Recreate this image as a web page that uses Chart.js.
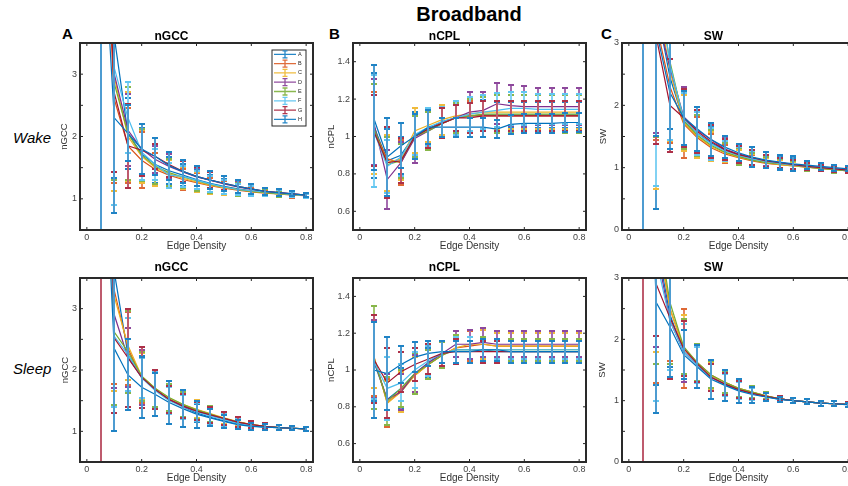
<!DOCTYPE html>
<html>
<head>
<meta charset="utf-8">
<script src="https://cdn.jsdelivr.net/npm/chart.js@4.4.1/dist/chart.umd.min.js"></script>
<style>
  html, body { margin: 0; padding: 0; background: #fff; overflow: hidden; width: 848px; height: 486px; }
  #fig { position: relative; width: 848px; height: 486px; overflow: hidden; font-family: "Liberation Sans", Arial, sans-serif; }
  #fig canvas { position: absolute; }
  .lbl { position: absolute; line-height: 1; white-space: nowrap; color: #000; }
</style>
</head>
<body>
<div id="fig">
  <div class="lbl" style="left:469px;top:4px;font-size:20px;font-weight:bold;transform:translateX(-50%);">Broadband</div>
  <div class="lbl" style="left:62px;top:26px;font-size:15px;font-weight:bold;">A</div>
  <div class="lbl" style="left:329px;top:26px;font-size:15px;font-weight:bold;">B</div>
  <div class="lbl" style="left:601px;top:26px;font-size:15px;font-weight:bold;">C</div>
  <div class="lbl" style="left:13px;top:129.5px;font-size:15px;font-style:italic;">Wake</div>
  <div class="lbl" style="left:13px;top:360.5px;font-size:15px;font-style:italic;">Sleep</div>
</div>
<script>
// Edge densities at which each network measure was computed
const edgeDensity = [0.05, 0.10, 0.15, 0.20, 0.25, 0.30, 0.35, 0.40, 0.45, 0.50, 0.55, 0.60, 0.65, 0.70, 0.75, 0.80];
const groupNames = ['A', 'B', 'C', 'D', 'E', 'F', 'G', 'H'];

// Axis tick positions
const densityTicks = [0, 0.2, 0.4, 0.6, 0.8];
const gccTicks = [1, 1.5, 2, 2.5, 3];
const cplTicks = [0.6, 0.8, 1.0, 1.2, 1.4];
const swTicks = [0, 0.5, 1, 1.5, 2, 2.5, 3];

// ---- Wake: normalised global clustering coefficient (mean, sd) ----
const wakeGccMean = [
  [12.0, 3.60, 2.05, 1.72, 1.55, 1.45, 1.38, 1.31, 1.25, 1.20, 1.16, 1.13, 1.11, 1.09, 1.07, 1.05],
  [7.0, 2.60, 1.85, 1.62, 1.47, 1.38, 1.31, 1.26, 1.21, 1.17, 1.14, 1.11, 1.09, 1.08, 1.06, 1.05],
  [9.0, 2.95, 2.00, 1.68, 1.50, 1.40, 1.33, 1.27, 1.22, 1.18, 1.15, 1.12, 1.10, 1.08, 1.07, 1.05],
  [10.0, 3.00, 2.10, 1.80, 1.63, 1.52, 1.43, 1.35, 1.30, 1.24, 1.19, 1.15, 1.12, 1.10, 1.08, 1.06],
  [9.5, 2.85, 2.05, 1.70, 1.52, 1.42, 1.35, 1.29, 1.23, 1.19, 1.15, 1.12, 1.10, 1.08, 1.07, 1.05],
  [11.0, 3.10, 2.30, 1.75, 1.55, 1.38, 1.36, 1.30, 1.24, 1.19, 1.15, 1.13, 1.11, 1.09, 1.07, 1.05],
  [8.0, 2.70, 1.85, 1.78, 1.68, 1.55, 1.44, 1.36, 1.30, 1.25, 1.20, 1.16, 1.12, 1.10, 1.08, 1.06],
  [6.0, 2.30, 2.05, 1.80, 1.68, 1.53, 1.44, 1.36, 1.30, 1.25, 1.20, 1.16, 1.12, 1.10, 1.08, 1.06]
];
const wakeGccErr = [
  [12.0, 2.27, 0.57, 0.42, 0.30, 0.22, 0.18, 0.16, 0.14, 0.12, 0.10, 0.08, 0.06, 0.05, 0.04, 0.03],
  [3.0, 1.35, 0.60, 0.45, 0.27, 0.20, 0.17, 0.15, 0.13, 0.11, 0.09, 0.07, 0.05, 0.04, 0.04, 0.03],
  [4.5, 1.83, 0.72, 0.42, 0.30, 0.22, 0.18, 0.16, 0.14, 0.12, 0.10, 0.08, 0.06, 0.05, 0.04, 0.03],
  [5.0, 1.57, 0.58, 0.40, 0.22, 0.20, 0.17, 0.15, 0.14, 0.12, 0.10, 0.08, 0.06, 0.05, 0.04, 0.03],
  [5.0, 1.55, 0.75, 0.42, 0.28, 0.22, 0.18, 0.16, 0.14, 0.12, 0.10, 0.08, 0.06, 0.05, 0.04, 0.03],
  [6.0, 2.20, 0.57, 0.45, 0.25, 0.20, 0.17, 0.15, 0.13, 0.11, 0.09, 0.08, 0.06, 0.05, 0.04, 0.03],
  [4.0, 1.27, 0.67, 0.42, 0.20, 0.20, 0.17, 0.15, 0.13, 0.11, 0.10, 0.08, 0.06, 0.05, 0.04, 0.03],
  [2.0, 1.53, 0.45, 0.40, 0.30, 0.22, 0.18, 0.16, 0.14, 0.12, 0.10, 0.08, 0.06, 0.05, 0.04, 0.03]
];

// ---- Wake: normalised characteristic path length ----
const wakeCplMean = [
  [1.06, 0.87, 0.90, 1.01, 1.04, 1.08, 1.10, 1.11, 1.115, 1.115, 1.115, 1.115, 1.115, 1.115, 1.115, 1.115],
  [1.04, 0.88, 0.86, 1.00, 1.04, 1.07, 1.10, 1.11, 1.11, 1.11, 1.11, 1.11, 1.11, 1.11, 1.11, 1.11],
  [1.04, 0.86, 0.88, 1.03, 1.06, 1.09, 1.11, 1.12, 1.13, 1.13, 1.13, 1.13, 1.13, 1.13, 1.13, 1.13],
  [1.08, 0.77, 0.86, 0.99, 1.03, 1.07, 1.10, 1.13, 1.14, 1.175, 1.165, 1.16, 1.16, 1.16, 1.16, 1.16],
  [1.05, 0.85, 0.87, 1.00, 1.03, 1.07, 1.10, 1.11, 1.12, 1.12, 1.12, 1.12, 1.12, 1.12, 1.12, 1.12],
  [1.03, 0.84, 0.89, 1.01, 1.05, 1.08, 1.10, 1.12, 1.13, 1.14, 1.15, 1.15, 1.145, 1.145, 1.145, 1.145],
  [1.03, 0.86, 0.87, 1.00, 1.04, 1.07, 1.10, 1.10, 1.11, 1.11, 1.11, 1.11, 1.11, 1.11, 1.11, 1.11],
  [1.10, 0.89, 0.95, 1.00, 1.05, 1.05, 1.05, 1.05, 1.05, 1.04, 1.065, 1.07, 1.07, 1.07, 1.075, 1.075]
];
const wakeCplErr = [
  [0.28, 0.17, 0.10, 0.12, 0.10, 0.08, 0.07, 0.08, 0.08, 0.07, 0.07, 0.07, 0.07, 0.07, 0.07, 0.07],
  [0.20, 0.17, 0.12, 0.12, 0.10, 0.08, 0.07, 0.08, 0.08, 0.08, 0.08, 0.08, 0.08, 0.08, 0.08, 0.08],
  [0.24, 0.15, 0.11, 0.12, 0.09, 0.08, 0.08, 0.09, 0.09, 0.09, 0.09, 0.09, 0.09, 0.09, 0.09, 0.09],
  [0.23, 0.16, 0.11, 0.13, 0.10, 0.08, 0.08, 0.11, 0.10, 0.11, 0.11, 0.11, 0.10, 0.10, 0.10, 0.10],
  [0.23, 0.15, 0.09, 0.11, 0.10, 0.08, 0.08, 0.09, 0.09, 0.10, 0.10, 0.10, 0.10, 0.10, 0.10, 0.10],
  [0.30, 0.14, 0.10, 0.11, 0.10, 0.08, 0.09, 0.09, 0.09, 0.09, 0.09, 0.09, 0.08, 0.08, 0.08, 0.08],
  [0.19, 0.19, 0.12, 0.12, 0.10, 0.08, 0.07, 0.08, 0.08, 0.08, 0.08, 0.08, 0.08, 0.08, 0.08, 0.08],
  [0.28, 0.21, 0.12, 0.12, 0.09, 0.05, 0.05, 0.05, 0.05, 0.05, 0.05, 0.05, 0.05, 0.05, 0.05, 0.05]
];

// ---- Wake: small-worldness ----
const wakeSwMean = [
  [15.0, 3.60, 2.45, 1.75, 1.55, 1.40, 1.28, 1.20, 1.14, 1.10, 1.07, 1.05, 1.02, 1.00, 0.98, 0.96],
  [8.0, 3.30, 2.30, 1.70, 1.48, 1.32, 1.22, 1.16, 1.11, 1.07, 1.05, 1.03, 1.01, 0.99, 0.97, 0.95],
  [10.0, 3.80, 2.55, 1.72, 1.50, 1.34, 1.24, 1.17, 1.12, 1.08, 1.05, 1.03, 1.01, 0.99, 0.97, 0.95],
  [11.0, 3.50, 2.60, 1.82, 1.60, 1.45, 1.30, 1.22, 1.16, 1.11, 1.08, 1.05, 1.02, 1.00, 0.98, 0.96],
  [10.0, 4.00, 2.70, 1.75, 1.52, 1.36, 1.25, 1.18, 1.12, 1.08, 1.06, 1.04, 1.01, 0.99, 0.97, 0.95],
  [12.0, 4.20, 2.65, 1.78, 1.55, 1.38, 1.27, 1.20, 1.14, 1.10, 1.07, 1.04, 1.02, 1.00, 0.98, 0.96],
  [9.0, 3.10, 2.00, 1.80, 1.58, 1.42, 1.29, 1.21, 1.16, 1.11, 1.08, 1.05, 1.02, 1.00, 0.98, 0.96],
  [7.0, 3.20, 2.20, 1.80, 1.62, 1.45, 1.33, 1.24, 1.17, 1.12, 1.09, 1.06, 1.04, 1.02, 1.00, 0.98]
];
const wakeSwErr = [
  [15.0, 3.27, 0.83, 0.42, 0.35, 0.25, 0.16, 0.13, 0.12, 0.10, 0.10, 0.10, 0.06, 0.05, 0.05, 0.04],
  [4.0, 1.85, 0.90, 0.55, 0.33, 0.22, 0.14, 0.12, 0.10, 0.08, 0.07, 0.06, 0.05, 0.05, 0.04, 0.04],
  [5.0, 3.15, 1.13, 0.45, 0.35, 0.24, 0.15, 0.12, 0.10, 0.08, 0.07, 0.06, 0.05, 0.05, 0.04, 0.04],
  [6.0, 1.95, 1.30, 0.48, 0.37, 0.27, 0.17, 0.14, 0.12, 0.09, 0.08, 0.07, 0.06, 0.05, 0.05, 0.04],
  [5.0, 2.50, 1.40, 0.45, 0.33, 0.24, 0.15, 0.13, 0.11, 0.09, 0.08, 0.07, 0.06, 0.05, 0.05, 0.04],
  [6.0, 3.50, 1.20, 0.42, 0.35, 0.25, 0.16, 0.13, 0.12, 0.10, 0.09, 0.08, 0.06, 0.05, 0.05, 0.04],
  [4.0, 1.72, 0.75, 0.47, 0.35, 0.26, 0.17, 0.14, 0.12, 0.10, 0.08, 0.07, 0.06, 0.05, 0.05, 0.04],
  [3.0, 1.70, 0.90, 0.43, 0.35, 0.27, 0.18, 0.14, 0.16, 0.13, 0.11, 0.12, 0.06, 0.05, 0.05, 0.04]
];

// ---- Sleep: normalised global clustering coefficient ----
const sleepGccMean = [
  [10.0, 3.60, 2.25, 1.88, 1.68, 1.52, 1.40, 1.30, 1.23, 1.17, 1.12, 1.09, 1.07, 1.06, 1.05, 1.04],
  [9.0, 3.30, 2.35, 1.88, 1.68, 1.52, 1.43, 1.35, 1.28, 1.21, 1.15, 1.11, 1.08, 1.06, 1.05, 1.04],
  [9.0, 3.20, 2.40, 1.90, 1.70, 1.54, 1.44, 1.36, 1.29, 1.22, 1.16, 1.11, 1.08, 1.06, 1.05, 1.04],
  [11.0, 2.90, 2.20, 1.88, 1.68, 1.52, 1.42, 1.33, 1.26, 1.20, 1.14, 1.10, 1.08, 1.06, 1.05, 1.04],
  [8.0, 2.62, 2.30, 1.90, 1.70, 1.55, 1.44, 1.35, 1.28, 1.21, 1.15, 1.11, 1.08, 1.06, 1.05, 1.04],
  [10.0, 2.55, 2.25, 1.87, 1.66, 1.50, 1.40, 1.32, 1.25, 1.19, 1.13, 1.10, 1.07, 1.06, 1.05, 1.04],
  [12.0, 2.52, 2.20, 1.88, 1.68, 1.52, 1.41, 1.33, 1.27, 1.21, 1.15, 1.11, 1.08, 1.06, 1.05, 1.04],
  [7.0, 2.35, 1.92, 1.72, 1.60, 1.47, 1.37, 1.28, 1.22, 1.16, 1.11, 1.08, 1.07, 1.06, 1.05, 1.04]
];
const sleepGccErr = [
  [4.0, 2.18, 0.60, 0.35, 0.30, 0.22, 0.20, 0.15, 0.13, 0.10, 0.08, 0.06, 0.05, 0.04, 0.03, 0.03],
  [4.0, 1.53, 0.60, 0.42, 0.30, 0.22, 0.20, 0.15, 0.13, 0.10, 0.08, 0.06, 0.05, 0.04, 0.03, 0.03],
  [4.0, 1.55, 0.57, 0.38, 0.30, 0.22, 0.20, 0.15, 0.13, 0.10, 0.08, 0.06, 0.05, 0.04, 0.03, 0.03],
  [5.0, 1.20, 0.48, 0.45, 0.30, 0.22, 0.20, 0.15, 0.13, 0.10, 0.08, 0.06, 0.05, 0.04, 0.03, 0.03],
  [3.5, 1.19, 0.67, 0.40, 0.30, 0.22, 0.20, 0.15, 0.13, 0.10, 0.08, 0.06, 0.05, 0.04, 0.03, 0.03],
  [5.0, 1.15, 0.60, 0.33, 0.30, 0.22, 0.20, 0.15, 0.13, 0.10, 0.08, 0.06, 0.05, 0.04, 0.03, 0.03],
  [12.0, 1.22, 0.80, 0.50, 0.32, 0.22, 0.20, 0.15, 0.13, 0.10, 0.08, 0.06, 0.05, 0.04, 0.03, 0.03],
  [3.0, 1.35, 0.58, 0.50, 0.35, 0.35, 0.30, 0.22, 0.14, 0.10, 0.08, 0.06, 0.05, 0.04, 0.03, 0.03]
];

// ---- Sleep: normalised characteristic path length ----
const sleepCplMean = [
  [1.05, 0.84, 0.90, 0.98, 1.04, 1.09, 1.11, 1.11, 1.11, 1.10, 1.10, 1.10, 1.10, 1.10, 1.10, 1.10],
  [1.08, 0.82, 0.89, 0.97, 1.03, 1.08, 1.12, 1.13, 1.14, 1.13, 1.13, 1.13, 1.13, 1.13, 1.13, 1.13],
  [1.08, 0.82, 0.88, 0.97, 1.03, 1.08, 1.12, 1.14, 1.14, 1.13, 1.13, 1.13, 1.13, 1.13, 1.13, 1.13],
  [1.06, 0.84, 0.88, 0.98, 1.04, 1.09, 1.14, 1.14, 1.15, 1.14, 1.14, 1.14, 1.14, 1.14, 1.14, 1.14],
  [1.07, 0.83, 0.90, 0.98, 1.03, 1.08, 1.11, 1.11, 1.11, 1.11, 1.11, 1.11, 1.11, 1.11, 1.11, 1.11],
  [1.05, 0.90, 0.93, 1.00, 1.05, 1.09, 1.11, 1.11, 1.11, 1.11, 1.11, 1.11, 1.11, 1.11, 1.11, 1.11],
  [1.06, 0.93, 0.99, 1.03, 1.06, 1.09, 1.10, 1.10, 1.10, 1.10, 1.10, 1.10, 1.10, 1.10, 1.10, 1.10],
  [1.00, 0.98, 1.03, 1.07, 1.09, 1.10, 1.10, 1.10, 1.11, 1.11, 1.10, 1.10, 1.10, 1.10, 1.10, 1.10]
];
const sleepCplErr = [
  [0.22, 0.14, 0.11, 0.10, 0.08, 0.07, 0.08, 0.07, 0.07, 0.06, 0.06, 0.06, 0.06, 0.06, 0.06, 0.06],
  [0.22, 0.13, 0.11, 0.10, 0.08, 0.07, 0.09, 0.08, 0.08, 0.07, 0.07, 0.07, 0.07, 0.07, 0.07, 0.07],
  [0.18, 0.12, 0.11, 0.10, 0.08, 0.07, 0.09, 0.08, 0.08, 0.07, 0.07, 0.07, 0.07, 0.07, 0.07, 0.07],
  [0.21, 0.14, 0.10, 0.10, 0.09, 0.07, 0.07, 0.08, 0.08, 0.07, 0.07, 0.07, 0.07, 0.07, 0.07, 0.07],
  [0.28, 0.13, 0.10, 0.11, 0.08, 0.07, 0.08, 0.07, 0.07, 0.06, 0.06, 0.06, 0.06, 0.06, 0.06, 0.06],
  [0.21, 0.17, 0.10, 0.10, 0.08, 0.07, 0.07, 0.07, 0.06, 0.05, 0.05, 0.05, 0.05, 0.05, 0.05, 0.05],
  [0.24, 0.19, 0.11, 0.09, 0.08, 0.07, 0.07, 0.06, 0.06, 0.06, 0.06, 0.06, 0.06, 0.06, 0.06, 0.06],
  [0.26, 0.20, 0.10, 0.08, 0.07, 0.06, 0.06, 0.06, 0.06, 0.06, 0.06, 0.06, 0.06, 0.06, 0.06, 0.06]
];

// ---- Sleep: small-worldness ----
const sleepSwMean = [
  [14.0, 3.60, 2.40, 1.80, 1.58, 1.38, 1.27, 1.18, 1.12, 1.07, 1.03, 1.00, 0.98, 0.96, 0.95, 0.94],
  [9.0, 3.80, 2.50, 1.85, 1.62, 1.42, 1.30, 1.20, 1.14, 1.08, 1.03, 1.00, 0.98, 0.96, 0.95, 0.94],
  [9.0, 3.90, 2.50, 1.85, 1.60, 1.40, 1.30, 1.20, 1.14, 1.08, 1.03, 1.00, 0.98, 0.96, 0.95, 0.94],
  [10.0, 3.50, 2.30, 1.80, 1.58, 1.38, 1.27, 1.18, 1.12, 1.07, 1.03, 1.00, 0.98, 0.96, 0.95, 0.94],
  [10.0, 4.00, 2.60, 1.88, 1.62, 1.42, 1.30, 1.20, 1.14, 1.08, 1.03, 1.00, 0.98, 0.96, 0.95, 0.94],
  [11.0, 3.30, 2.30, 1.80, 1.58, 1.38, 1.26, 1.17, 1.11, 1.06, 1.02, 1.00, 0.98, 0.96, 0.95, 0.94],
  [12.0, 2.90, 2.35, 1.85, 1.60, 1.38, 1.27, 1.18, 1.12, 1.07, 1.03, 1.00, 0.98, 0.96, 0.95, 0.94],
  [8.0, 2.60, 2.20, 1.75, 1.55, 1.35, 1.25, 1.16, 1.10, 1.06, 1.02, 1.00, 0.98, 0.96, 0.95, 0.93]
];
const sleepSwErr = [
  [5.0, 2.35, 0.85, 0.45, 0.30, 0.22, 0.18, 0.14, 0.10, 0.06, 0.04, 0.04, 0.04, 0.04, 0.04, 0.04],
  [5.0, 2.52, 0.85, 0.65, 0.30, 0.22, 0.18, 0.14, 0.10, 0.06, 0.04, 0.04, 0.04, 0.04, 0.04, 0.04],
  [5.0, 2.10, 0.90, 0.55, 0.30, 0.22, 0.18, 0.14, 0.10, 0.06, 0.04, 0.04, 0.04, 0.04, 0.04, 0.04],
  [6.0, 1.62, 0.70, 0.50, 0.30, 0.22, 0.18, 0.14, 0.10, 0.06, 0.04, 0.04, 0.04, 0.04, 0.04, 0.04],
  [6.0, 2.40, 1.00, 0.45, 0.30, 0.22, 0.18, 0.14, 0.10, 0.06, 0.04, 0.04, 0.04, 0.04, 0.04, 0.04],
  [7.0, 2.30, 0.80, 0.45, 0.30, 0.22, 0.18, 0.14, 0.10, 0.06, 0.04, 0.04, 0.04, 0.04, 0.04, 0.04],
  [12.0, 0.85, 1.00, 0.45, 0.30, 0.22, 0.18, 0.14, 0.10, 0.06, 0.04, 0.04, 0.04, 0.04, 0.04, 0.04],
  [4.0, 1.80, 0.82, 0.40, 0.35, 0.32, 0.25, 0.20, 0.13, 0.06, 0.04, 0.04, 0.04, 0.04, 0.04, 0.04]
];

// ---------------- styling ----------------
const FONT = '"Liberation Sans", Arial, sans-serif';
const lineColors = ['#0072BD', '#D95319', '#EDB120', '#7E2F8E', '#77AC30', '#4DBEEE', '#A2142F', '#0072BD'];
const colLeft = [80, 353, 622];
const plotWidth = 233;
const rowTop = [43, 278];
const rowHeight = [187, 184];
const yAxisBox = 50, titleBox = 26, xAxisBox = 30, rightPad = 6;

// Mix a hex colour with white by the given fraction
function tint(hex, f) {
  const n = parseInt(hex.slice(1), 16);
  const ch = [(n >> 16) & 255, (n >> 8) & 255, n & 255].map(c => Math.round(c + (255 - c) * f));
  return 'rgb(' + ch.join(',') + ')';
}

// Vertical error bars with caps, drawn right after each series' line
const errorBarPlugin = {
  id: 'errorBars',
  afterDatasetDraw(chart, args) {
    const ds = chart.data.datasets[args.index];
    if (!ds.errors) return;
    const { ctx, chartArea: a, scales: { x, y } } = chart;
    ctx.save();
    ctx.beginPath();
    ctx.rect(a.left, a.top, a.right - a.left, a.bottom - a.top);
    ctx.clip();
    const stemColor = tint(ds.borderColor, 0.3);
    const capColor = tint(ds.borderColor, 0.12);
    const cap = 3;
    ds.data.forEach((pt, i) => {
      const e = ds.errors[i];
      const px = Math.round(x.getPixelForValue(pt.x));
      const hi = Math.round(y.getPixelForValue(pt.y + e));
      const lo = Math.round(y.getPixelForValue(pt.y - e));
      ctx.strokeStyle = stemColor;
      ctx.lineWidth = 2;
      ctx.beginPath();
      ctx.moveTo(px, hi); ctx.lineTo(px, lo);
      ctx.stroke();
      ctx.strokeStyle = capColor;
      ctx.lineWidth = 2;
      ctx.beginPath();
      ctx.moveTo(px - cap, hi); ctx.lineTo(px + cap, hi);
      ctx.moveTo(px - cap, lo); ctx.lineTo(px + cap, lo);
      ctx.stroke();
    });
    ctx.restore();
  }
};

// Closed axes box with inward tick marks on all four sides
const boxPlugin = {
  id: 'axesBox',
  afterDraw(chart) {
    const { ctx, chartArea: a, scales: { x, y } } = chart;
    const tl = 3;
    ctx.save();
    ctx.strokeStyle = '#262626';
    ctx.lineWidth = 1;
    ctx.beginPath();
    x.ticks.forEach(t => {
      const p = x.getPixelForValue(t.value);
      if (p <= a.left + 1 || p >= a.right - 1) return;
      ctx.moveTo(p, a.bottom); ctx.lineTo(p, a.bottom - tl);
      ctx.moveTo(p, a.top); ctx.lineTo(p, a.top + tl);
    });
    y.ticks.forEach(t => {
      const p = y.getPixelForValue(t.value);
      if (p <= a.top + 1 || p >= a.bottom - 1) return;
      ctx.moveTo(a.left, p); ctx.lineTo(a.left + tl, p);
      ctx.moveTo(a.right, p); ctx.lineTo(a.right - tl, p);
    });
    ctx.stroke();
    ctx.strokeStyle = '#2a2a2a';
    ctx.lineWidth = 2;
    ctx.strokeRect(a.left, a.top, a.right - a.left, a.bottom - a.top);
    ctx.restore();
  }
};

// Compact series key in the upper-right corner of the plot
const keyPlugin = {
  id: 'seriesKey',
  afterDraw(chart) {
    const { ctx, chartArea: a } = chart;
    const w = 34, h = 76, rowH = 9.3;
    const bx = a.right - 7 - w, by = a.top + 7;
    ctx.save();
    ctx.fillStyle = '#fff';
    ctx.fillRect(bx, by, w, h);
    ctx.strokeStyle = '#262626';
    ctx.lineWidth = 1;
    ctx.strokeRect(bx, by, w, h);
    ctx.font = '5.5px ' + FONT;
    ctx.textBaseline = 'middle';
    chart.data.datasets.forEach((ds, i) => {
      const cy = by + 4.3 + i * rowH;
      const mx = bx + 13;
      ctx.strokeStyle = tint(ds.borderColor, 0.15);
      ctx.lineWidth = 1.3;
      ctx.beginPath();
      ctx.moveTo(bx + 2, cy); ctx.lineTo(bx + 24, cy);
      ctx.moveTo(mx, cy - 3.5); ctx.lineTo(mx, cy + 3.5);
      ctx.moveTo(mx - 2.5, cy - 3.5); ctx.lineTo(mx + 2.5, cy - 3.5);
      ctx.moveTo(mx - 2.5, cy + 3.5); ctx.lineTo(mx + 2.5, cy + 3.5);
      ctx.stroke();
      ctx.fillStyle = '#262626';
      ctx.fillText(ds.label, bx + 26, cy);
    });
    ctx.restore();
  }
};

const fmtNum = v => (Math.abs(v) < 1e-9 ? '0' : String(+v.toFixed(2)));
const fmtInt = v => (Math.abs(v - Math.round(v)) < 1e-6 ? String(Math.round(v)) : '');

const panels = [
  { col: 0, row: 0, title: 'nGCC', yName: 'nGCC', mean: wakeGccMean, err: wakeGccErr, yMin: 0.5, yMax: 3.5, ticks: gccTicks, fmt: fmtInt, yTitlePad: 29, key: true },
  { col: 1, row: 0, title: 'nCPL', yName: 'nCPL', mean: wakeCplMean, err: wakeCplErr, yMin: 0.5, yMax: 1.5, ticks: cplTicks, fmt: fmtNum, yTitlePad: 22.5 },
  { col: 2, row: 0, title: 'SW', yName: 'SW', mean: wakeSwMean, err: wakeSwErr, yMin: 0, yMax: 3, ticks: swTicks, fmt: fmtInt, yTitlePad: 25.5 },
  { col: 0, row: 1, title: 'nGCC', yName: 'nGCC', mean: sleepGccMean, err: sleepGccErr, yMin: 0.5, yMax: 3.5, ticks: gccTicks, fmt: fmtInt, yTitlePad: 30 },
  { col: 1, row: 1, title: 'nCPL', yName: 'nCPL', mean: sleepCplMean, err: sleepCplErr, yMin: 0.5, yMax: 1.5, ticks: cplTicks, fmt: fmtNum, yTitlePad: 22.5 },
  { col: 2, row: 1, title: 'SW', yName: 'SW', mean: sleepSwMean, err: sleepSwErr, yMin: 0, yMax: 3, ticks: swTicks, fmt: fmtInt, yTitlePad: 25 }
];

const fig = document.getElementById('fig');

panels.forEach(p => {
  const h = rowHeight[p.row];
  const cw = yAxisBox + plotWidth + rightPad;
  const ch = titleBox + h + xAxisBox;
  const canvas = document.createElement('canvas');
  canvas.width = cw;
  canvas.height = ch;
  canvas.style.left = (colLeft[p.col] - yAxisBox) + 'px';
  canvas.style.top = (rowTop[p.row] - titleBox) + 'px';
  canvas.style.width = cw + 'px';
  canvas.style.height = ch + 'px';
  fig.appendChild(canvas);

  const datasets = groupNames.map((name, i) => ({
    label: name,
    data: edgeDensity.map((d, j) => ({ x: d, y: p.mean[i][j] })),
    errors: p.err[i],
    borderColor: lineColors[i],
    backgroundColor: lineColors[i],
    borderWidth: 1.2,
    pointRadius: 0,
    tension: 0,
    fill: false,
    order: groupNames.length - i
  }));

  const titlePad = p.row === 0 ? { top: 13.4, bottom: 0.6 } : { top: 10, bottom: 4 };

  const plugins = [errorBarPlugin, boxPlugin];
  if (p.key) plugins.push(keyPlugin);

  new Chart(canvas, {
    type: 'line',
    data: { datasets },
    plugins,
    options: {
      responsive: false,
      animation: false,
      devicePixelRatio: 1,
      layout: { padding: { left: 0, right: rightPad, top: 0, bottom: 0 }, autoPadding: false },
      plugins: {
        legend: { display: false },
        tooltip: { enabled: false },
        title: {
          display: true, text: p.title, color: '#000',
          font: { family: FONT, size: 12, weight: 'bold', lineHeight: 1 },
          padding: titlePad
        }
      },
      scales: {
        x: {
          type: 'linear', min: -0.025, max: 0.825,
          grid: { display: false, drawTicks: false },
          border: { display: false },
          afterBuildTicks: s => { s.ticks = densityTicks.map(v => ({ value: v })); },
          ticks: { padding: 2, color: '#444', font: { family: FONT, size: 9 }, maxRotation: 0, autoSkip: false, callback: fmtNum },
          title: { display: true, text: 'Edge Density', color: '#333', font: { family: FONT, size: 10, lineHeight: 1.2 }, padding: { top: 0, bottom: 8 } },
          afterFit: s => { s.height = xAxisBox; }
        },
        y: {
          type: 'linear', min: p.yMin, max: p.yMax,
          grid: { display: false, drawTicks: false },
          border: { display: false },
          afterBuildTicks: s => { s.ticks = p.ticks.map(v => ({ value: v })); },
          ticks: { padding: 3, color: '#444', font: { family: FONT, size: 9 }, autoSkip: false, callback: p.fmt },
          title: { display: true, text: p.yName, color: '#333', font: { family: FONT, size: 9.5, lineHeight: 1.2 }, padding: { top: p.yTitlePad, bottom: 0 } },
          afterFit: s => { s.width = yAxisBox; }
        }
      }
    }
  });
});
</script>
</body>
</html>
